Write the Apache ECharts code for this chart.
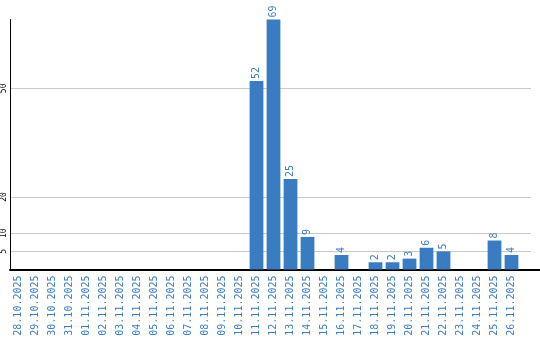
<!DOCTYPE html>
<html>
<head>
<meta charset="utf-8">
<script src="https://cdn.jsdelivr.net/npm/echarts@6/dist/echarts.min.js"></script>
<style>html,body{margin:0;padding:0;background:#fff;}#c{width:540px;height:340px;}</style>
</head>
<body>
<div id="c"></div>
<script>
const categories = ["28.10.2025","29.10.2025","30.10.2025","31.10.2025","01.11.2025","02.11.2025","03.11.2025","04.11.2025","05.11.2025","06.11.2025","07.11.2025","08.11.2025","09.11.2025","10.11.2025","11.11.2025","12.11.2025","13.11.2025","14.11.2025","15.11.2025","16.11.2025","17.11.2025","18.11.2025","19.11.2025","20.11.2025","21.11.2025","22.11.2025","23.11.2025","24.11.2025","25.11.2025","26.11.2025"];
const values = [0,0,0,0,0,0,0,0,0,0,0,0,0,0,52,69,25,9,0,4,0,2,2,3,6,5,0,0,8,4];
const yTicks = [5,10,20,50];

const blue = '#3a7cc1';
const mono = 'DejaVu Sans Mono';
const chart = echarts.init(document.getElementById('c'), null, {renderer:'canvas'});
chart.setOption({
  animation:false,
  grid:[
    {left:10, width:510, top:19.5, bottom:70.5},
    {left:10, right:9, top:19.5, bottom:70.5},
    {left:10, right:0, top:19.5, bottom:70.5}
  ],
  xAxis:[
    {gridIndex:0, type:'category', data:categories, axisLine:{show:false}, axisTick:{show:false},
     axisLabel:{rotate:90, margin:6, color:blue, fontFamily:mono, fontSize:10, interval:0}},
    {gridIndex:1, type:'value', min:0, max:1, show:false},
    {gridIndex:2, type:'value', min:0, max:1, axisLine:{show:true, lineStyle:{color:'#000', width:2}}, axisTick:{show:false}, axisLabel:{show:false}, splitLine:{show:false}}
  ],
  yAxis:[
    {gridIndex:0, type:'value', min:0, max:69, show:false},
    {gridIndex:1, type:'value', min:0, max:69,
     axisLine:{show:true, lineStyle:{color:'#000', width:1}},
     axisTick:{show:false, customValues:yTicks},
     axisLabel:{customValues:yTicks, rotate:90, margin:2, color:'#000', fontFamily:mono, fontSize:8},
     splitLine:{show:true, lineStyle:{color:'#c8c8c8', width:1}}},
    {gridIndex:2, type:'value', min:0, max:69, show:false}
  ],
  series:[
    {type:'bar', xAxisIndex:0, yAxisIndex:0, data:values, barCategoryGap:'19%',
     itemStyle:{color:blue},
     label:{show:true, position:'top', rotate:90, align:'left', verticalAlign:'middle', distance:2,
       color:blue, fontFamily:mono, fontSize:10,
       formatter:p => p.value ? String(p.value) : ''}}
  ]
});
</script>
</body>
</html>
